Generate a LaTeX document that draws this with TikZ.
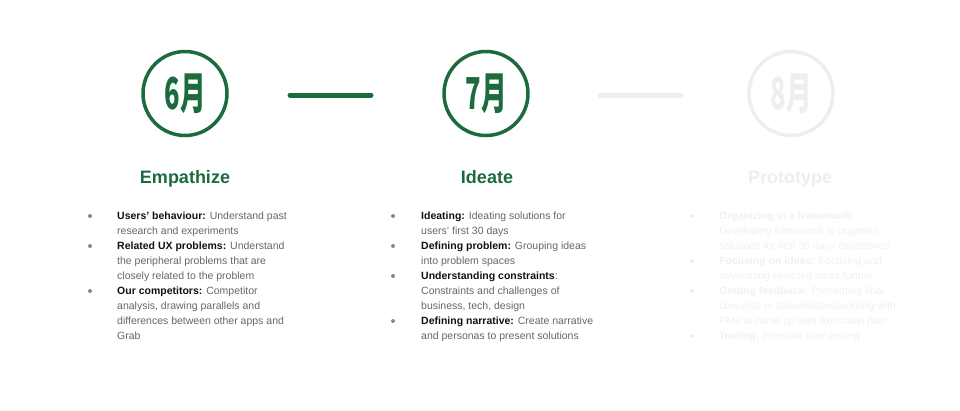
\documentclass[tikz,border=0pt]{standalone}
\usepackage{fontspec}
\setmainfont{Liberation Sans}
\newfontfamily\cjk{Noto Sans CJK SC}
\definecolor{brand}{HTML}{1B6B3F}
\definecolor{faint}{HTML}{EEEEEE}
\definecolor{fainttext}{HTML}{F0F0F0}
\definecolor{body}{HTML}{666666}
\definecolor{label}{HTML}{111111}
\definecolor{dotc}{HTML}{888888}
\tikzset{
  month/.style={circle, draw, line width=3.5pt, minimum size=84pt, inner sep=0pt},
  monthtxt/.style={font=\cjk\bfseries\fontsize{44}{44}\selectfont},
  phase/.style={anchor=base, inner sep=0pt, font=\bfseries\fontsize{18}{20}\selectfont},
  link/.style={line width=5pt, line cap=round},
  items/.style={anchor=base west, inner sep=0pt, font=\fontsize{10.5}{15}\selectfont},
  bullet/.style={circle, inner sep=0pt, minimum size=4pt},
}
\newcommand{\lbl}[1]{{\bfseries\color{label}#1}}
\newcommand{\lblf}[1]{{\bfseries #1}}
\newcommand{\lines}[1]{\begin{tabular}[t]{@{}l@{}}#1\end{tabular}}
\begin{document}
\begin{tikzpicture}[x=1pt,y=-1pt]
\useasboundingbox (0,0) rectangle (960,410);
% circles
\node[month, monthtxt, draw=brand, text=brand] (m6) at (185,93.5) {\scalebox{0.58}[1]{6月}};
\node[month, monthtxt, draw=brand, text=brand] (m7) at (486,93.5) {\scalebox{0.58}[1]{7月}};
\node[month, monthtxt, draw=faint, text=faint] (m8) at (791,93.5) {\scalebox{0.58}[1]{8月}};
\coordinate (a1) at (290,95); \coordinate (b1) at (371,95);
\coordinate (a2) at (600,95); \coordinate (b2) at (681,95);
\draw[link, brand] (a1) -- (b1);
\draw[link, faint] (a2) -- (b2);
% titles
\node[phase, text=brand] (t1) at (185,183) {Empathize};
\node[phase, text=brand] (t2) at (487,183) {Ideate};
\node[phase, text=faint] (t3) at (790,183) {Prototype};
% column 1
\foreach \y/\n in {216/1,246/2,291/3} \node[bullet, fill=dotc] (c1b\n) at (90,\y) {};
\node[items, text=body] (c1i1) at (117,219.5) {\lines{\lbl{Users' behaviour:} Understand past\\research and experiments}};
\node[items, text=body] (c1i2) at (117,249.5) {\lines{\lbl{Related UX problems:} Understand\\the peripheral problems that are\\closely related to the problem}};
\node[items, text=body] (c1i3) at (117,294.5) {\lines{\lbl{Our competitors:} Competitor\\analysis, drawing parallels and\\differences between other apps and\\Grab}};
% column 2
\foreach \y/\n in {216/1,246/2,276/3,321/4} \node[bullet, fill=dotc] (c2b\n) at (393,\y) {};
\node[items, text=body] (c2i1) at (421,219.5) {\lines{\lbl{Ideating:} Ideating solutions for\\users' first 30 days}};
\node[items, text=body] (c2i2) at (421,249.5) {\lines{\lbl{Defining problem:} Grouping ideas\\into problem spaces}};
\node[items, text=body] (c2i3) at (421,279.5) {\lines{\lbl{Understanding constraints}:\\Constraints and challenges of\\business, tech, design}};
\node[items, text=body] (c2i4) at (421,324.5) {\lines{\lbl{Defining narrative:} Create narrative\\and personas to present solutions}};
% column 3
\foreach \y/\n in {216/1,261/2,291/3,336/4} \node[bullet, fill=faint] (c3b\n) at (692,\y) {};
\node[items, text=fainttext] (c3i1) at (719,219.5) {\lines{\lblf{Organizing in a framework:}\\Developing framework to organise\\solutions for first 30 days experience}};
\node[items, text=fainttext] (c3i2) at (719,264.5) {\lines{\lblf{Focusing on ideas:} Focusing and\\developing selected ideas further}};
\node[items, text=fainttext] (c3i3) at (719,294.5) {\lines{\lblf{Getting feedback:} Presenting final\\concepts to stakeholders/working with\\PMs to come up with execution plan}};
\node[items, text=fainttext] (c3i4) at (719,339.5) {\lines{\lblf{Testing:} Possible user testing}};
\end{tikzpicture}
\end{document}
